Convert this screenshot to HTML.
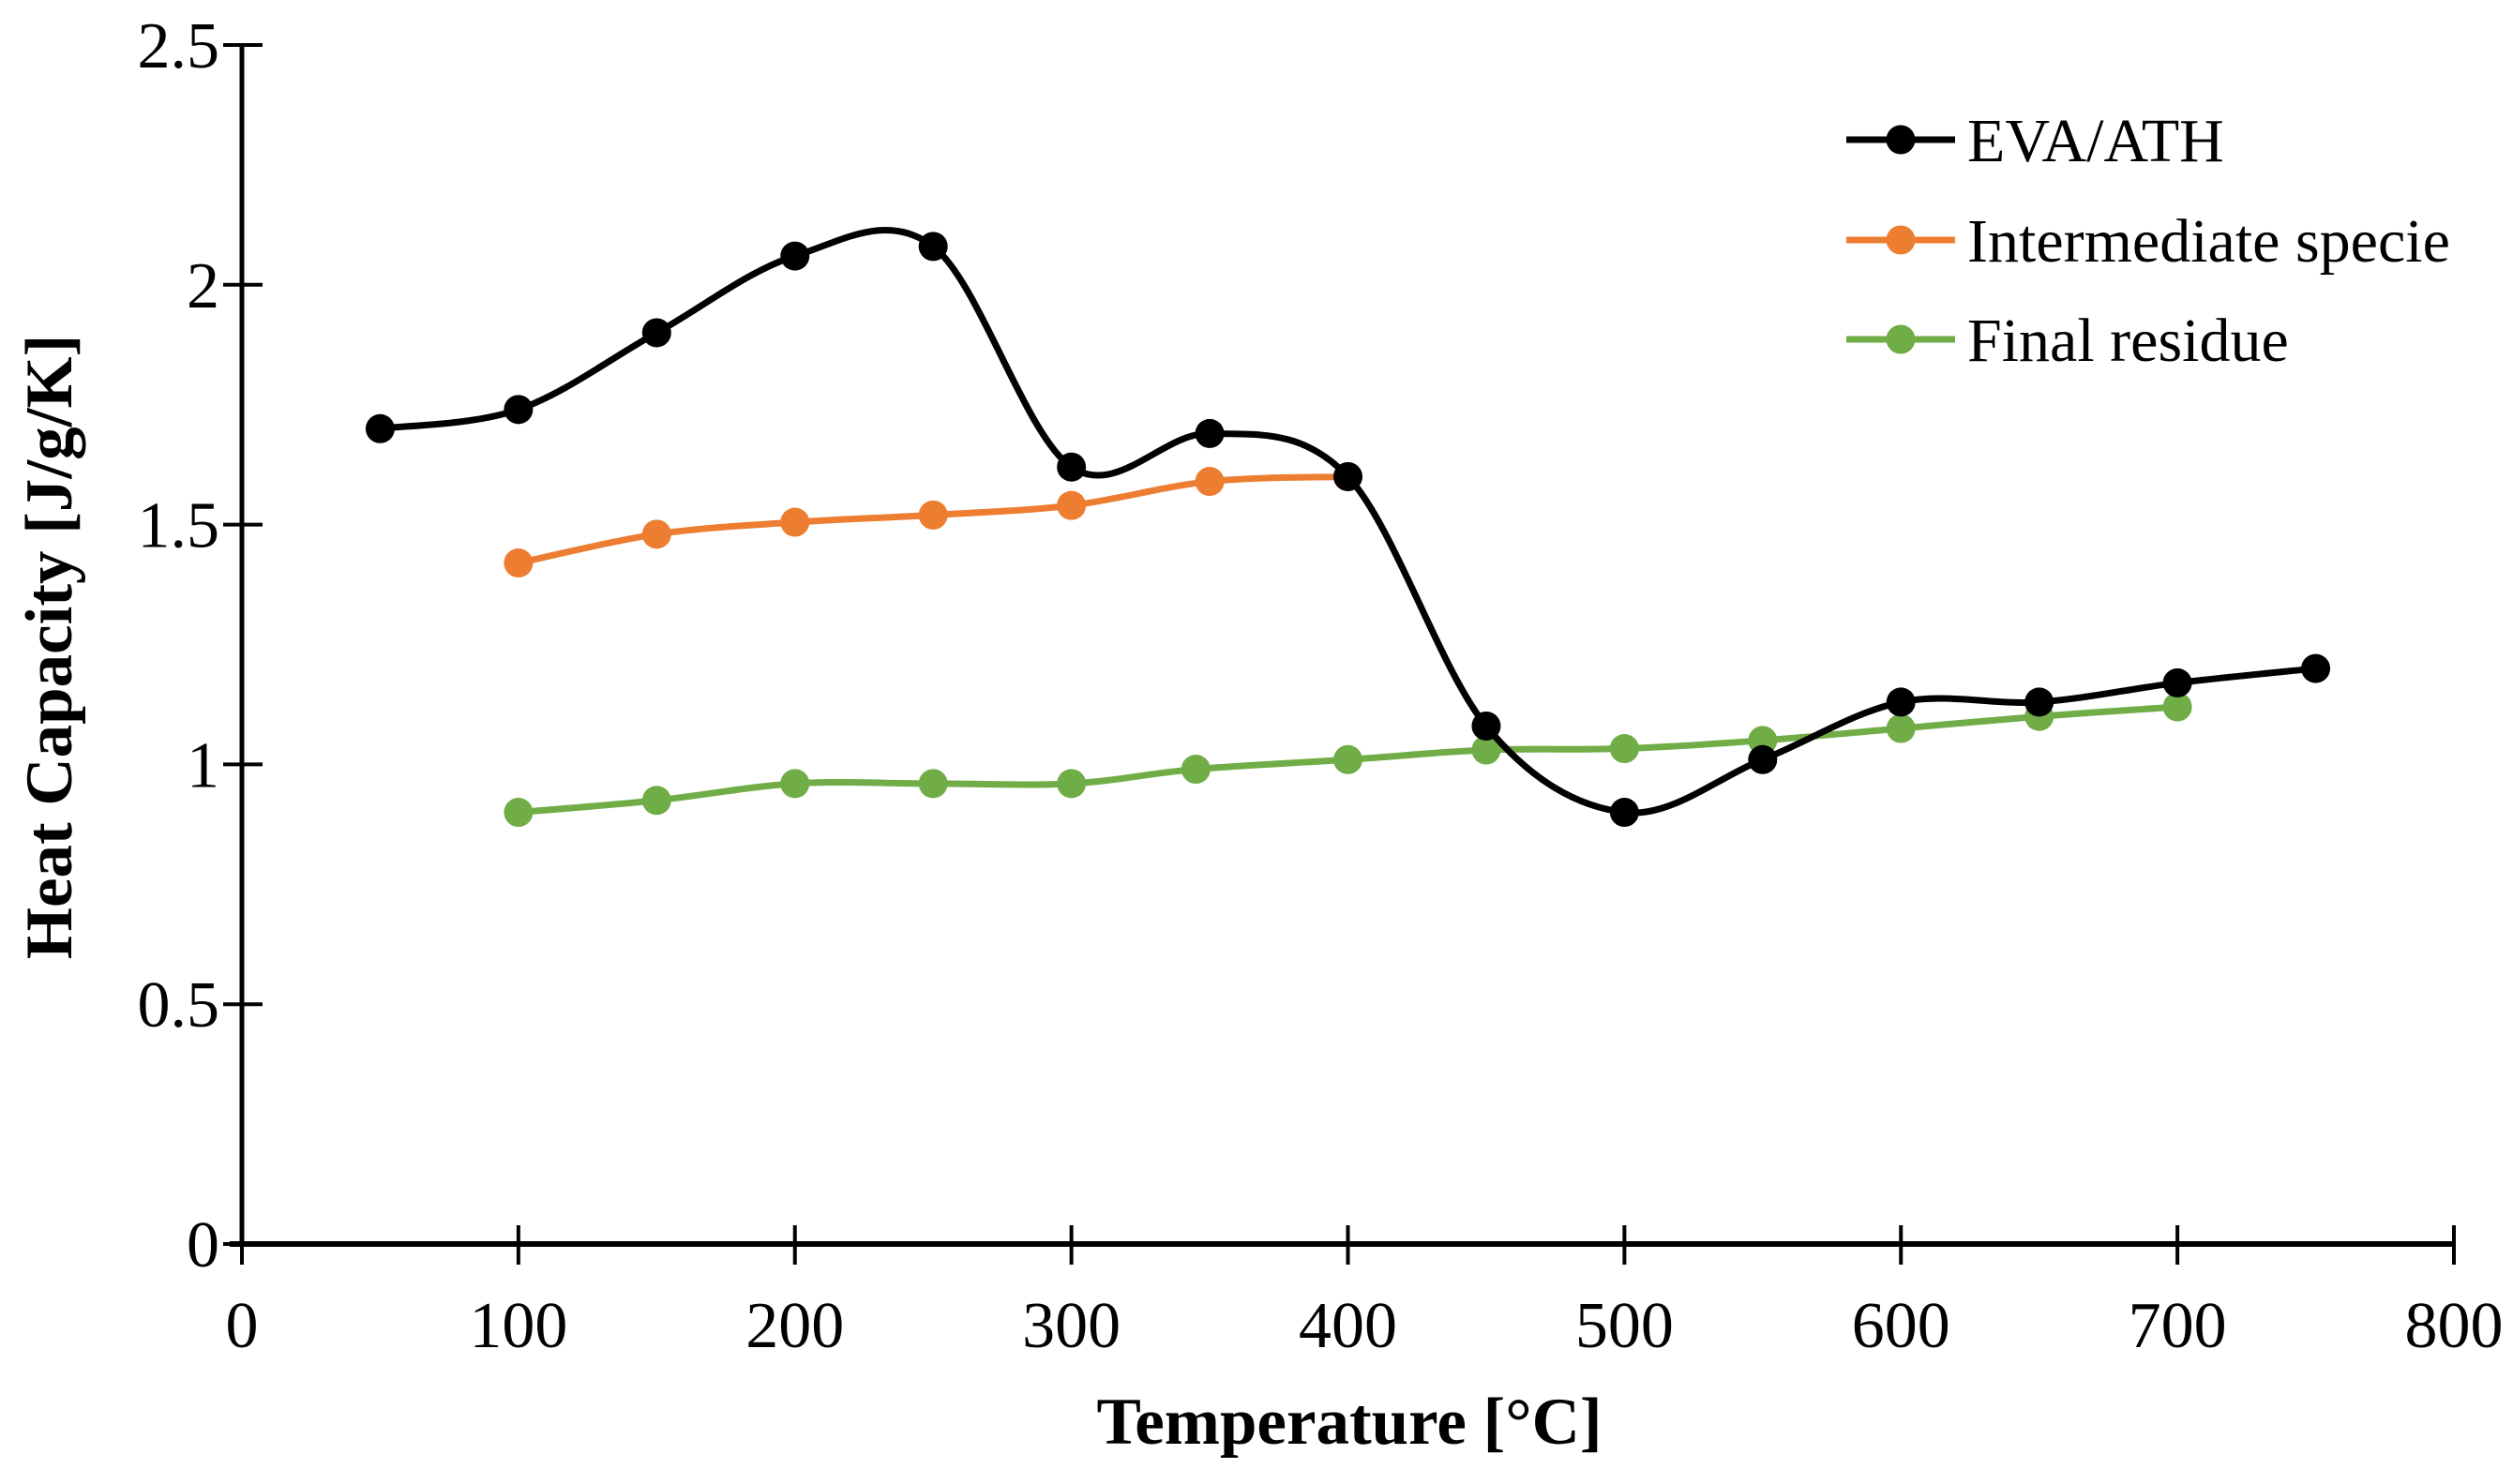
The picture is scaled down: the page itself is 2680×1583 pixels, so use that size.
<!DOCTYPE html>
<html><head><meta charset="utf-8"><style>
html,body{margin:0;padding:0;background:#fff;}
svg{display:block;font-family:"Liberation Serif",serif;}
</style></head><body>
<svg id="chart" width="2680" height="1583" viewBox="0 0 2680 1583" xmlns="http://www.w3.org/2000/svg">
<g id="axes"></g><g id="series"></g><g id="legend"></g>
</svg>
<script>
const xTicks=[0,100,200,300,400,500,600,700,800];
const yTicks=[0,0.5,1,1.5,2,2.5];
const yTickLabels=["0","0.5","1","1.5","2","2.5"];
const evaX=[50,100,150,200,250,300,350,400,450,500,550,600,650,700,750];
const evaY=[1.70,1.74,1.90,2.06,2.08,1.62,1.69,1.60,1.08,0.90,1.01,1.13,1.13,1.17,1.20];
const interX=[100,150,200,250,300,350,400];
const interY=[1.42,1.48,1.505,1.52,1.54,1.59,1.60];
const finalX=[100,150,200,250,300,345,400,450,500,550,600,650,700];
const finalY=[0.90,0.925,0.96,0.96,0.96,0.99,1.01,1.03,1.033,1.05,1.075,1.10,1.12];
const seriesNames=["EVA/ATH","Intermediate specie","Final residue"];
const seriesColors=["#000000","#ED7D31","#70AD47"];

const NS="http://www.w3.org/2000/svg";
const X0=258,X1=2617,Y0=1327,Y1=48;
function sx(v){return X0+(v-0)/(800-0)*(X1-X0);}
function sy(v){return Y0-(v-0)/(2.5-0)*(Y0-Y1);}
function mk(tag,attrs,parent){const e=document.createElementNS(NS,tag);for(const k in attrs)e.setAttribute(k,attrs[k]);parent.appendChild(e);return e;}
const axes=document.getElementById('axes');
let a=mk('line',{x1:X0,y1:Y0,x2:X0,y2:Y1,stroke:'#000','stroke-width':5},axes);


a=mk('line',{x1:X0-13,y1:Y0,x2:X1,y2:Y0,stroke:'#000','stroke-width':6},axes);


xTicks.forEach(v=>{
  const t=mk('line',{x1:sx(v),y1:Y0-20,x2:sx(v),y2:Y0+22,stroke:'#000','stroke-width':4},axes);
  
  
  const l=mk('text',{x:sx(v),y:1437,'font-size':70,'text-anchor':'middle'},axes);
  l.textContent=String(v);
  
  
});
yTicks.forEach((v,i)=>{
  const t=mk('line',{x1:X0-20,y1:sy(v),x2:X0+22,y2:sy(v),stroke:'#000','stroke-width':4},axes);
  
  
  const l=mk('text',{x:234,y:sy(v)+24,'font-size':70,'text-anchor':'end'},axes);
  l.textContent=yTickLabels[i];
  
  
});
let tt=mk('text',{x:1439,y:1540,'font-size':71,'font-weight':'bold','text-anchor':'middle'},axes);
tt.textContent='Temperature [°C]';


tt=mk('text',{x:0,y:0,'font-size':71,'font-weight':'bold','text-anchor':'middle',transform:'translate(76,690) rotate(-90)'},axes);
tt.textContent='Heat Capacity [J/g/K]';



function smooth(px,py){
  let d='M'+px[0]+','+py[0];
  for(let i=0;i<px.length-1;i++){
    const p0=i>0?i-1:i,p3=i+2<px.length?i+2:i+1;
    const c1x=px[i]+(px[i+1]-px[p0])/6,c1y=py[i]+(py[i+1]-py[p0])/6;
    const c2x=px[i+1]-(px[p3]-px[i])/6,c2y=py[i+1]-(py[p3]-py[i])/6;
    d+=' C'+c1x+','+c1y+' '+c2x+','+c2y+' '+px[i+1]+','+py[i+1];
  }
  return d;
}
const ser=document.getElementById('series');
const allX=[evaX,interX,finalX],allY=[evaY,interY,finalY];
const slugs=['eva-ath','intermediate-specie','final-residue'];
[2,1,0].forEach(s=>{
  const px=allX[s].map(sx),py=allY[s].map(sy);
  const g=mk('g',{},ser);
  
  
  const p=mk('path',{d:smooth(px,py),fill:'none',stroke:seriesColors[s],'stroke-width':7},g);
  
  
  px.forEach((x,i)=>{
    const c=mk('circle',{cx:x,cy:py[i],r:15.5,fill:seriesColors[s]},g);
    
    
  });
});
const leg=document.getElementById('legend');
[149,256,362].forEach((y,s)=>{
  const g=mk('g',{},leg);
  
  
  mk('line',{x1:1969,y1:y,x2:2085,y2:y,stroke:seriesColors[s],'stroke-width':7},g);
  mk('circle',{cx:2027,cy:y,r:15.5,fill:seriesColors[s]},g);
  const t=mk('text',{x:2098,y:y+23,'font-size':66},g);
  t.textContent=seriesNames[s];
});
</script>
</body></html>
